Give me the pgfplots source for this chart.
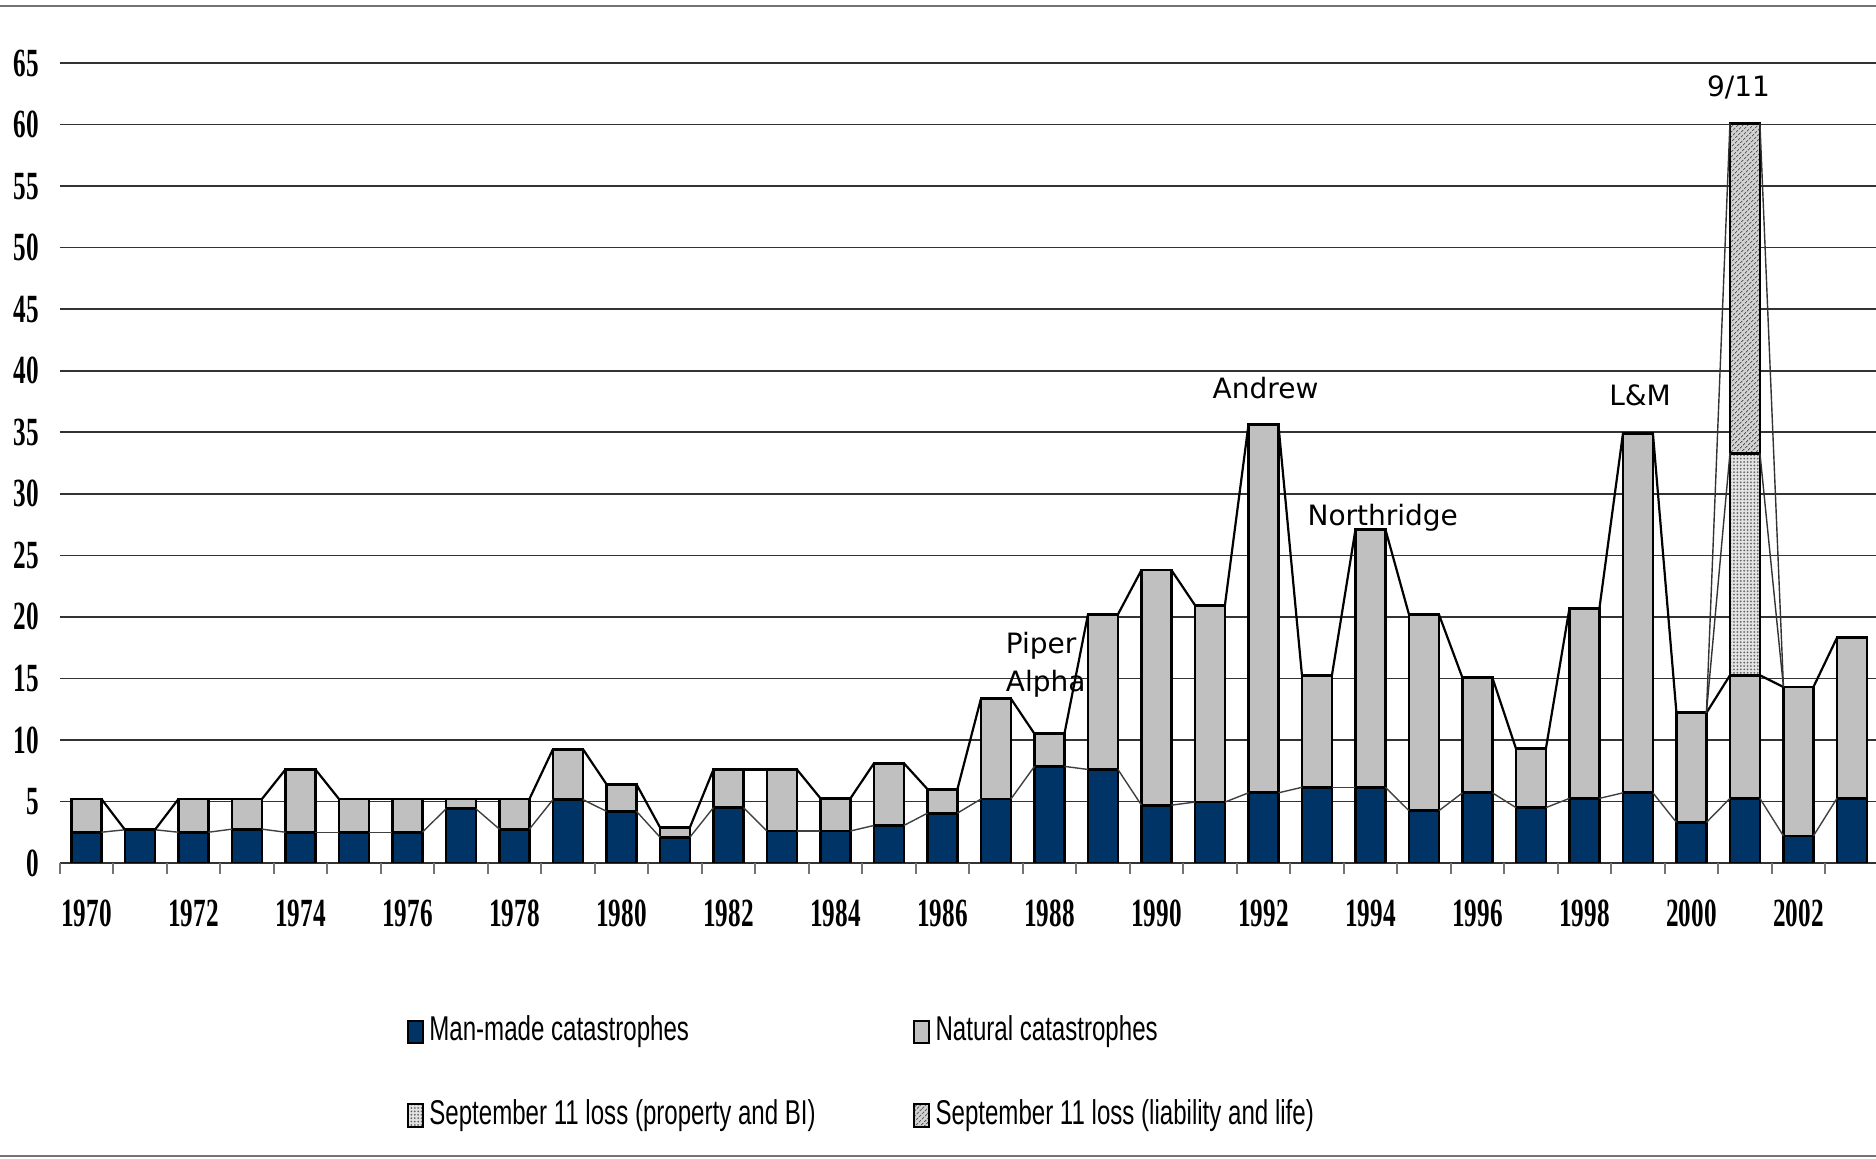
\documentclass[border=0pt]{standalone}
\usepackage{fontspec}
\usepackage{pgfplots}
\usepackage{pgfplotstable}
\pgfplotsset{compat=1.18}
\usetikzlibrary{patterns,patterns.meta}
\newfontfamily\tickfont[FakeStretch=0.63]{Liberation Serif Bold}
\newfontfamily\legfont[FakeStretch=0.70]{Liberation Sans}
\newfontfamily\annfont{DejaVu Sans}
\definecolor{navy}{HTML}{003366}
\definecolor{natgray}{HTML}{C0C0C0}

\pgfplotstableread{
year man nat prop liab
1970 2.5 2.7 0 0
1971 2.7 0 0 0
1972 2.5 2.7 0 0
1973 2.75 2.45 0 0
1974 2.5 5.1 0 0
1975 2.5 2.7 0 0
1976 2.5 2.7 0 0
1977 4.4 0.8 0 0
1978 2.75 2.45 0 0
1979 5.15 4.1 0 0
1980 4.2 2.2 0 0
1981 2.1 0.8 0 0
1982 4.5 3.1 0 0
1983 2.6 5.0 0 0
1984 2.6 2.65 0 0
1985 3.05 5.05 0 0
1986 4.05 1.95 0 0
1987 5.2 8.15 0 0
1988 7.85 2.65 0 0
1989 7.6 12.6 0 0
1990 4.7 19.1 0 0
1991 4.95 16.0 0 0
1992 5.7 29.9 0 0
1993 6.15 9.1 0 0
1994 6.15 20.95 0 0
1995 4.25 15.95 0 0
1996 5.7 9.35 0 0
1997 4.5 4.8 0 0
1998 5.25 15.45 0 0
1999 5.7 29.2 0 0
2000 3.3 8.9 0 0
2001 5.25 10.0 18.05 26.8
2002 2.2 12.1 0 0
2003 5.25 13.05 0 0
}\data
\pgfplotstablecreatecol[create col/expr={\thisrow{man}+\thisrow{nat}}]{c2}\data
\pgfplotstablecreatecol[create col/expr={\thisrow{c2}+\thisrow{prop}}]{c3}\data
\pgfplotstablecreatecol[create col/expr={\thisrow{c3}+\thisrow{liab}}]{c4}\data
\pgfplotstablecreatecol[create col/expr={0\nextrow{man}}]{n1}\data
\pgfplotstablecreatecol[create col/expr={0\nextrow{c2}}]{n2}\data
\pgfplotstablecreatecol[create col/expr={0\nextrow{c3}}]{n3}\data
\pgfplotstablecreatecol[create col/expr={0\nextrow{c4}}]{n4}\data

\tikzset{
  barbase/.style={ybar, bar width=0.56, bar shift=0pt, draw=black, line width=0.7pt},
  propfill/.style={fill=gray!22, postaction={pattern={Dots[radius=0.25pt,distance=0.85pt]}, pattern color=black!60}},
  liabfill/.style={fill=gray!35, postaction={pattern={Lines[angle=45,distance=0.9pt,line width=0.3pt]}, pattern color=black!70}},
  ann/.style={font=\annfont\fontsize{7}{8.4}\selectfont, inner sep=0pt},
}

\begin{document}
\begin{tikzpicture}
\begin{axis}[
  at={(0pt,0pt)}, anchor=south west,
  scale only axis, width=454.75pt, height=200pt,
  xmin=1969.5, xmax=2003.5, ymin=0, ymax=65,
  enlargelimits=false,
  axis line style={draw=none},
  xtick={1970,1972,...,2002},
  minor xtick={1969.5,1970.5,...,2003.5},
  ytick={0,5,...,65},
  tick pos=left, tick align=outside,
  major tick length=0pt, minor tick length=2.7pt,
  minor tick style={black!55, line width=0.45pt},
  ytick style={draw=none},
  ymajorgrids, major grid style={black!80, line width=0.4pt},
  /pgf/number format/1000 sep={},
  /pgf/number format/assume math mode=true,
  ticklabel style={font=\tickfont\fontsize{10}{12}\selectfont},
  xticklabel style={yshift=-5.7pt},
  yticklabel style={xshift=-1.7pt},
  legend columns=2, legend cell align=left,
  legend image code/.code={\draw[#1] (0pt,-2.9pt) rectangle (3.75pt,2.7pt);},
  legend style={at={(0.1908,-0.1893)}, anchor=north west, draw=none, fill=none,
    inner sep=0pt, outer sep=0pt, row sep=12.45pt,
    nodes={font=\legfont\fontsize{8.6}{10}\selectfont, inner sep=0pt, text width=120.9pt, align=justify, text height=6.5pt, text depth=2pt},
    /tikz/every odd column/.append style={column sep=1.4pt},
    /tikz/every even column/.append style={column sep=0pt}},
]
% bars, drawn tallest first
\addplot[forget plot, barbase, liabfill] table[x=year, y=c4] {\data};
\addplot[forget plot, barbase, propfill] table[x=year, y=c3] {\data};
\addplot[forget plot, barbase, fill=natgray] table[x=year, y=c2] {\data};
\addplot[forget plot, barbase, fill=navy] table[x=year, y=man] {\data};
% series lines
\addplot[forget plot, black!75, line width=0.35pt, quiver={u=0.44, v=\thisrow{n1}-\thisrow{man}}, restrict x to domain=1969:2002.6]
  table[x expr=\thisrow{year}+0.28, y=man] {\data};
\addplot[forget plot, black, line width=0.55pt, quiver={u=0.44, v=\thisrow{n2}-\thisrow{c2}}, restrict x to domain=1969:2002.6]
  table[x expr=\thisrow{year}+0.28, y=c2] {\data};
\addplot[forget plot, black!80, line width=0.35pt, quiver={u=0.44, v=\thisrow{n3}-\thisrow{c3}}, restrict x to domain=2000.1:2001.5]
  table[x expr=\thisrow{year}+0.28, y=c3] {\data};
\addplot[forget plot, black!80, line width=0.35pt, quiver={u=0.44, v=\thisrow{n4}-\thisrow{c4}}, restrict x to domain=2000.1:2001.5]
  table[x expr=\thisrow{year}+0.28, y=c4] {\data};
% legend
\addlegendimage{draw=black, line width=0.5pt, fill=navy}
\addlegendentry{Man-made catastrophes}
\addlegendimage{draw=black, line width=0.5pt, fill=natgray}
\addlegendentry{Natural catastrophes}
\addlegendimage{draw=black, line width=0.5pt, propfill}
\addlegendentry{September 11 loss (property and BI)}
\addlegendimage{draw=black, line width=0.5pt, liabfill}
\addlegendentry{September 11 loss (liability and life)}
% annotations
\node[ann, anchor=base] at (axis cs:1992.04,37.75) {Andrew};
\node[ann, anchor=base] at (axis cs:1994.23,27.46) {Northridge};
\node[ann, anchor=base] at (axis cs:1999.04,37.17) {L\&M};
\node[ann, anchor=base] at (axis cs:2000.88,62.3) {9/11};
\node[ann, anchor=base west] at (axis cs:1987.17,17.03) {Piper};
\node[ann, anchor=base west] at (axis cs:1987.17,13.9) {Alpha};
\end{axis}
\draw[black!55, line width=0.65pt] (-14.93pt,214.25pt) -- (454.08pt,214.25pt);
\draw[black!55, line width=0.65pt] (-14.93pt,-73.25pt) -- (454.08pt,-73.25pt);
\pgfresetboundingbox
\path[use as bounding box] (-14.93pt,-74pt) rectangle (454.08pt,215.75pt);
\end{tikzpicture}
\end{document}
